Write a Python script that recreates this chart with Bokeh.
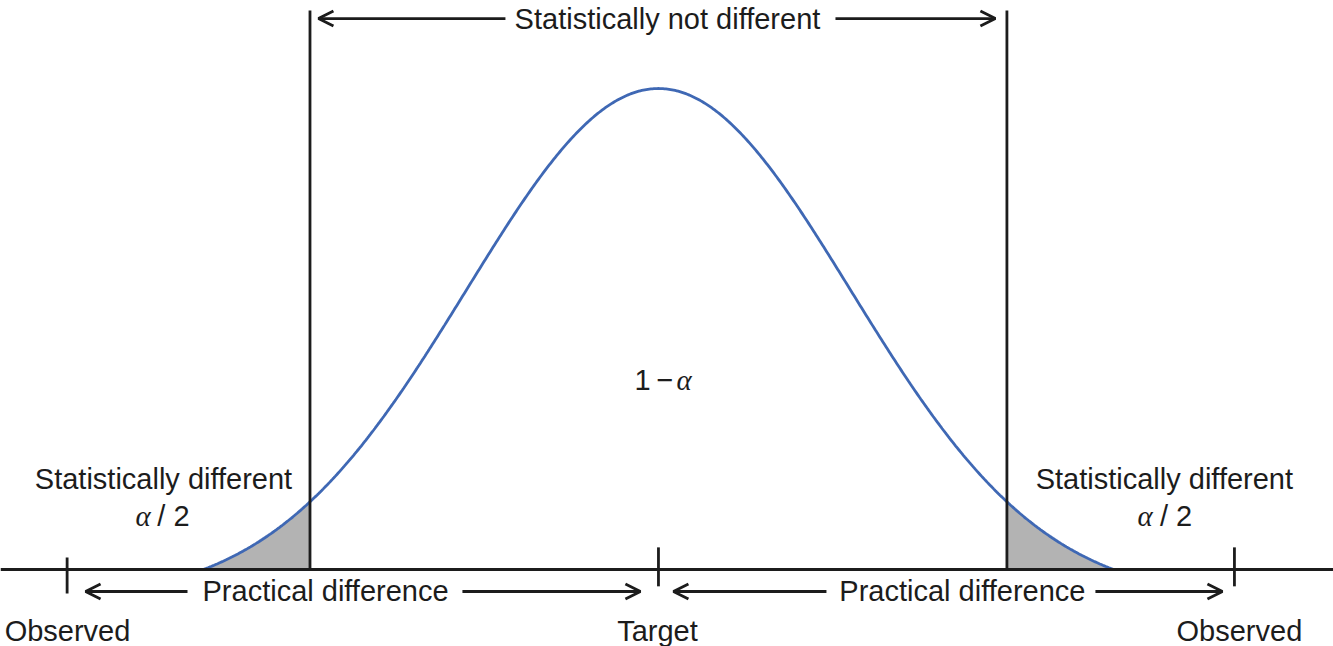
import numpy as np
from bokeh.plotting import figure
from bokeh.models import Range1d, Span, Arrow, OpenHead, ColumnDataSource
from bokeh.core.properties import value
from bokeh.embed import file_html
from bokeh.resources import INLINE

# ---- curve (standardised units) ----
crit = 1.815          # critical value (vertical lines)
trunc = 2.37          # where the drawn curve meets the baseline
top_y = 1.162         # top of the vertical lines

# ticks on the baseline
tick_x = [-3.08, 0.0, 3.0]
tick_top = [0.025, 0.046, 0.046]
tick_bot = [-0.05, -0.035, -0.035]

# arrows (tail -> tip)
arrow_x0 = [-2.453, -1.021, 0.875, 2.276, -0.797, 0.922]
arrow_x1 = [-2.984, -0.094, 0.078, 2.9375, -1.771, 1.755]
arrow_y = [-0.0457, -0.0457, -0.0457, -0.0457, 1.1455, 1.1455]

# sans labels
lab_text = ["Statistically not different", "Practical difference", "Practical difference",
            "Statistically different", "Statistically different",
            "Observed", "Target", "Observed"]
lab_x = [0.047, -1.734, 1.583, -2.578, 2.635, -3.078, -0.005, 3.026]
lab_y = [1.1455, -0.0457, -0.0457, 0.189, 0.189, -0.127, -0.127, -0.127]

# math pieces: alpha (italic serif) and the sans parts
alpha_x = [-2.724, 2.495, 0.094]
alpha_y = [0.112, 0.112, 0.395]
part_text = ["/ 2", "/ 2", "1\u2009\u2212"]
part_x = [-2.61, 2.612, 0.078]
part_y = [0.112, 0.112, 0.395]
part_align = ["left", "left", "right"]

INK = "#1c1c1c"
BLUE = "#3f68b4"
GREY = "#b3b3b3"
SANS = "Liberation Sans"
LW = 2.8

p = figure(width=1333, height=646, output_backend="svg", toolbar_location=None,
           x_range=Range1d(-3.427, 3.516), y_range=Range1d(-0.1601, 1.1830),
           min_border=0, outline_line_color=None)
p.axis.visible = False
p.grid.visible = False

# curve: normal density, shifted so it meets the baseline at +/- trunc
z = np.linspace(-trunc, trunc, 601)
c = np.exp(-trunc ** 2 / 2)
f = (np.exp(-z ** 2 / 2) - c) / (1 - c)

left = z <= -crit
right = z >= crit
p.varea(x=z[left], y1=np.zeros(left.sum()), y2=f[left], fill_color=GREY)
p.varea(x=z[right], y1=np.zeros(right.sum()), y2=f[right], fill_color=GREY)
p.line(z, f, line_color=BLUE, line_width=LW)

# vertical critical lines
p.segment(x0=[-crit, crit], y0=[0, 0], x1=[-crit, crit], y1=[top_y, top_y],
          line_color=INK, line_width=LW)

# baseline
p.add_layout(Span(location=0, dimension="width", line_color=INK, line_width=LW))

# ticks
p.segment(x0=tick_x, y0=tick_bot, x1=tick_x, y1=tick_top, line_color=INK, line_width=LW)

# arrows
asrc = ColumnDataSource(dict(x0=arrow_x0, x1=arrow_x1, y=arrow_y))
p.add_layout(Arrow(source=asrc, x_start="x0", y_start="y", x_end="x1", y_end="y",
                   line_color=INK, line_width=LW,
                   end=OpenHead(size=15, line_color=INK, line_width=LW)))

# labels
p.text(x=lab_x, y=lab_y, text=lab_text, text_font=value(SANS), text_font_size="29px",
       text_align="center", text_baseline="middle", text_color=INK)
p.text(x=part_x, y=part_y, text=part_text, text_font=value(SANS), text_font_size="29px",
       text_align=part_align, text_baseline="middle", text_color=INK)
p.text(x=alpha_x, y=alpha_y, text=["\u03b1"] * 3, text_font=value("Liberation Serif"),
       text_font_style="italic", text_font_size="29px",
       text_align="left", text_baseline="middle", text_color=INK)

open("out.html", "w").write(file_html(p, INLINE))
